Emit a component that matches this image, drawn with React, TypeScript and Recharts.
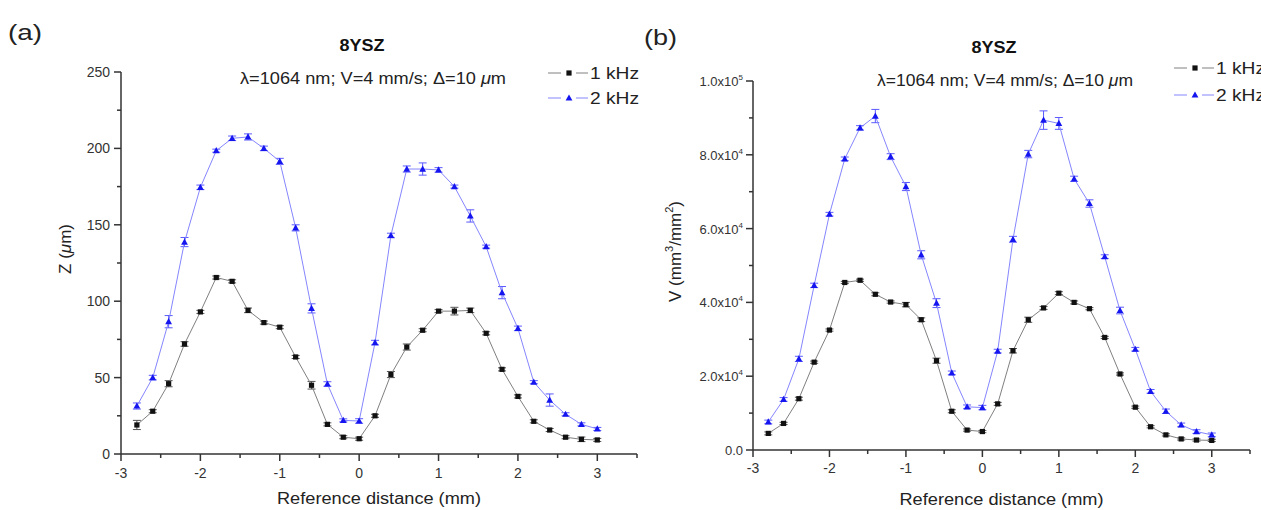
import React from 'react';
import { ComposedChart, Line, XAxis, YAxis, ErrorBar, Legend } from 'recharts';

// ---- Data ----
const distance = [-2.8, -2.6, -2.4, -2.2, -2.0, -1.8, -1.6, -1.4, -1.2, -1.0, -0.8, -0.6, -0.4, -0.2, 0.0,
  0.2, 0.4, 0.6, 0.8, 1.0, 1.2, 1.4, 1.6, 1.8, 2.0, 2.2, 2.4, 2.6, 2.8, 3.0];

const z1kHz = [19, 28, 46, 72, 93, 115.5, 113, 94, 86, 83, 63.5, 45, 19.4, 11, 10,
  25, 52, 70, 81, 93.5, 93.5, 94, 79, 55.4, 37.7, 21.4, 15.7, 11, 9.6, 9.2];
const z1kHzErr = [3, 1, 2, 1.5, 1, 1, 1, 1.5, 1, 1, 1, 2.5, 1, 1, 1,
  1, 2, 2, 1, 1, 2.5, 1.5, 1, 1, 1, 1, 1, 1, 1.5, 1];
const z2kHz = [31.4, 50, 86.6, 138.7, 174.5, 198.5, 206.6, 207.5, 200, 191.5, 148, 95.3, 45.8, 22, 21.6,
  72.9, 143, 186.5, 186.5, 185.9, 175, 155.8, 135.7, 105.6, 82.2, 47, 35.3, 26, 19.4, 16.4];
const z2kHzErr = [2, 1.5, 4, 3, 1.5, 1, 1.5, 2, 1.5, 2, 2, 3, 1.5, 1, 1.5,
  1.5, 1.5, 2, 4, 1.5, 1, 4, 1, 4, 1.5, 1, 4, 1, 1, 1];

const v1kHz = [4500, 7200, 13900, 23800, 32500, 45400, 46000, 42200, 40100, 39400, 35300, 24200, 10500, 5400, 5000,
  12500, 26900, 35300, 38500, 42500, 40000, 38300, 30500, 20600, 11600, 6300, 4100, 3000, 2700, 2600];
const v1kHzErr = [400, 300, 400, 300, 300, 300, 300, 400, 300, 600, 500, 700, 400, 300, 300,
  400, 600, 700, 400, 400, 400, 300, 300, 300, 300, 300, 300, 300, 300, 300];
const v2kHz = [7600, 13700, 24700, 44600, 63900, 78900, 87300, 90500, 79500, 71400, 52900, 39800, 20900, 11700, 11500,
  26800, 57100, 80200, 89400, 88500, 73500, 66800, 52400, 37800, 27300, 15900, 10500, 6800, 5000, 4100];
const v2kHzErr = [500, 500, 700, 600, 500, 500, 600, 1800, 800, 1100, 1100, 1200, 500, 500, 600,
  500, 800, 1000, 2500, 1600, 700, 1000, 500, 900, 500, 500, 600, 500, 500, 500];

const seriesNames = ['1 kHz', '2 kHz'];
const xTicks = [-3, -2.5, -2, -1.5, -1, -0.5, 0, 0.5, 1, 1.5, 2, 2.5, 3, 3.5];
const zTicks = [0, 25, 50, 75, 100, 125, 150, 175, 200, 225, 250];
const vTicks = [0, 10000, 20000, 30000, 40000, 50000, 60000, 70000, 80000, 90000, 100000];

const zData = distance.map((d, i) => ({ d, low: z1kHz[i], lowErr: z1kHzErr[i], high: z2kHz[i], highErr: z2kHzErr[i] }));
const vData = distance.map((d, i) => ({ d, low: v1kHz[i], lowErr: v1kHzErr[i], high: v2kHz[i], highErr: v2kHzErr[i] }));

const FONT = '"Liberation Sans", Arial, sans-serif';
const AXIS = '#333';
const LOW_LINE = '#808080';
const HIGH_LINE = '#8585ff';
const LOW_DOT = '#111';
const HIGH_DOT = '#1515f0';

const SquareDot = (props: any) => {
  const { cx, cy } = props;
  if (cx == null || cy == null) return null;
  return <rect x={cx - 2.6} y={cy - 2.6} width={5.2} height={5.2} fill={LOW_DOT} />;
};
const TriangleDot = (props: any) => {
  const { cx, cy } = props;
  if (cx == null || cy == null) return null;
  return <polygon points={`${cx},${cy - 3.6} ${cx + 3.4},${cy + 2.6} ${cx - 3.4},${cy + 2.6}`} fill={HIGH_DOT} />;
};

const makeXTick = (labelDy: number) => (props: any) => {
  const { x, y, payload } = props;
  const v = payload.value;
  const major = Math.abs(v - Math.round(v)) < 1e-6;
  return (
    <g>
      <line x1={x} x2={x} y1={y} y2={y + (major ? 7 : 4)} stroke={AXIS} strokeWidth={1.5} />
      {major && (
        <text x={x} y={y + labelDy} textAnchor="middle" dominantBaseline="central" fontSize={14} fill={AXIS} fontFamily={FONT}>
          {v}
        </text>
      )}
    </g>
  );
};

const ZTick = (props: any) => {
  const { x, y, payload } = props;
  const v = payload.value;
  const major = v % 50 === 0;
  return (
    <g>
      <line x1={x} x2={x - (major ? 7 : 4)} y1={y} y2={y} stroke={AXIS} strokeWidth={1.5} />
      {major && (
        <text x={x - 11} y={y} textAnchor="end" dominantBaseline="central" fontSize={14} fill={AXIS} fontFamily={FONT}>
          {v}
        </text>
      )}
    </g>
  );
};

const VTick = (props: any) => {
  const { x, y, payload } = props;
  const v = payload.value;
  const major = v % 20000 === 0;
  let content: any = null;
  if (major) {
    if (v === 0) content = '0.0';
    else {
      const exp = Math.floor(Math.log10(v));
      const mant = (v / Math.pow(10, exp)).toFixed(1);
      content = (
        <>
          {mant}x10<tspan dy={-6} fontSize={8}>{exp}</tspan>
        </>
      );
    }
  }
  return (
    <g>
      <line x1={x} x2={x - (major ? 7 : 4)} y1={y} y2={y} stroke={AXIS} strokeWidth={1.5} />
      {major && (
        <text x={x - 10} y={y + 5} textAnchor="end" fontSize={13} fill={AXIS} fontFamily={FONT}>
          {content}
        </text>
      )}
    </g>
  );
};

const makeLegend = (rowGap: number) => () => (
  <svg width={100} height={50} style={{ overflow: 'visible' }}>
    {seriesNames.map((name, i) => {
      const y = 10 + i * rowGap;
      const col = i === 0 ? LOW_LINE : HIGH_LINE;
      return (
        <g key={name}>
          <line x1={0} x2={13} y1={y} y2={y} stroke={col} strokeWidth={1} />
          <line x1={28} x2={40} y1={y} y2={y} stroke={col} strokeWidth={1} />
          {i === 0 ? <SquareDot cx={21} cy={y} /> : <TriangleDot cx={21} cy={y} />}
          <text x={42} y={y} dominantBaseline="central" fontSize={16} fill="#222" fontFamily={FONT} textLength={49} lengthAdjust="spacingAndGlyphs">
            {name}
          </text>
        </g>
      );
    })}
  </svg>
);

type PanelProps = {
  data: any[];
  left: number;
  width: number;
  margin: { top: number; right: number; bottom: number; left: number };
  yDomain: [number, number];
  yTicks: number[];
  yTick: any;
  xLabelDy: number;
  yLabel: any;
  xLabelY: number;
  yLabelX: number;
  legendPos: { left: number; top: number; gap: number };
};

const Panel = (p: PanelProps) => (
  <div style={{ position: 'absolute', left: p.left, top: 0 }}>
    <ComposedChart width={p.width} height={510} data={p.data} margin={p.margin}>
      <XAxis
        dataKey="d"
        type="number"
        domain={[-3, 3.5]}
        ticks={xTicks}
        interval={0}
        allowDataOverflow
        tickSize={0}
        tickMargin={0}
        tickLine={false}
        tick={makeXTick(p.xLabelDy)}
        height={30}
        stroke={AXIS}
        strokeWidth={1.5}
        label={{
          content: (lp: any) => {
            const vb = lp.viewBox;
            return (
              <text x={vb.x + vb.width / 2} y={p.xLabelY} textAnchor="middle" dominantBaseline="central" fontSize={16} fill="#222" fontFamily={FONT} textLength={204} lengthAdjust="spacingAndGlyphs">
                Reference distance (mm)
              </text>
            );
          },
        }}
      />
      <YAxis
        type="number"
        domain={p.yDomain}
        ticks={p.yTicks}
        interval={0}
        allowDataOverflow
        tickSize={0}
        tickMargin={0}
        tickLine={false}
        tick={p.yTick}
        width={60}
        stroke={AXIS}
        strokeWidth={1.5}
        label={{
          content: (lp: any) => {
            const vb = lp.viewBox;
            const cy = vb.y + vb.height / 2 - 14;
            return (
              <text x={p.yLabelX} y={cy} transform={`rotate(-90 ${p.yLabelX} ${cy})`} textAnchor="middle" dominantBaseline="central" fontSize={17} fill="#222" fontFamily={FONT}>
                {p.yLabel}
              </text>
            );
          },
        }}
      />
      <Legend
        layout="horizontal"
        verticalAlign="middle"
        align="center"
        content={makeLegend(p.legendPos.gap)}
        wrapperStyle={{ left: p.legendPos.left, top: p.legendPos.top, width: 100, height: 50 }}
      />
      <Line
        dataKey="low"
        name={seriesNames[0]}
        stroke={LOW_LINE}
        strokeWidth={1}
        dot={<SquareDot />}
        activeDot={false}
        isAnimationActive={false}
      >
        <ErrorBar dataKey="lowErr" direction="y" width={4} stroke="#555" strokeWidth={1} />
      </Line>
      <Line
        dataKey="high"
        name={seriesNames[1]}
        stroke={HIGH_LINE}
        strokeWidth={1}
        dot={<TriangleDot />}
        activeDot={false}
        isAnimationActive={false}
      >
        <ErrorBar dataKey="highErr" direction="y" width={4} stroke="#5a5aff" strokeWidth={1} />
      </Line>
    </ComposedChart>
  </div>
);

const Headings = () => (
  <svg width={1261} height={510} style={{ position: 'absolute', left: 0, top: 0, pointerEvents: 'none' }} fontFamily={FONT}>
    <text x={8} y={32} dominantBaseline="central" fontSize={22} fill="#222" textLength={34} lengthAdjust="spacingAndGlyphs">(a)</text>
    <text x={644} y={37} dominantBaseline="central" fontSize={22} fill="#222" textLength={33} lengthAdjust="spacingAndGlyphs">(b)</text>
    <text x={362} y={45} textAnchor="middle" dominantBaseline="central" fontSize={16} fontWeight="bold" fill="#111" textLength={45} lengthAdjust="spacingAndGlyphs">8YSZ</text>
    <text x={994} y={47} textAnchor="middle" dominantBaseline="central" fontSize={16} fontWeight="bold" fill="#111" textLength={45} lengthAdjust="spacingAndGlyphs">8YSZ</text>
    <text x={373} y={78} textAnchor="middle" dominantBaseline="central" fontSize={16} fill="#222" textLength={266} lengthAdjust="spacingAndGlyphs">
      λ=1064 nm; V=4 mm/s; Δ=10 <tspan fontStyle="italic">μ</tspan>m
    </text>
    <text x={1005} y={80} textAnchor="middle" dominantBaseline="central" fontSize={16} fill="#222" textLength={256} lengthAdjust="spacingAndGlyphs">
      λ=1064 nm; V=4 mm/s; Δ=10 <tspan fontStyle="italic">μ</tspan>m
    </text>
  </svg>
);

export default function App() {
  return (
    <div style={{ position: 'absolute', left: 0, top: 0, width: 1261, height: 510, overflow: 'hidden', background: '#fff' }}>
      <Panel
        data={zData}
        left={0}
        width={640}
        margin={{ top: 72, right: 3, bottom: 26, left: 61 }}
        yDomain={[0, 250]}
        yTicks={zTicks}
        yTick={ZTick}
        xLabelDy={19}
        xLabelY={498}
        yLabelX={65}
        yLabel={<>Z (<tspan fontStyle="italic">μ</tspan>m)</>}
        legendPos={{ left: 548, top: 63, gap: 25 }}
      />
      <Panel
        data={vData}
        left={630}
        width={631}
        margin={{ top: 81, right: 11, bottom: 30, left: 63 }}
        yDomain={[0, 100000]}
        yTicks={vTicks}
        yTick={VTick}
        xLabelDy={18}
        xLabelY={499}
        yLabelX={45}
        yLabel={<>V (mm<tspan dy={-6} fontSize={11}>3</tspan><tspan dy={6}>/mm</tspan><tspan dy={-6} fontSize={11}>2</tspan><tspan dy={6}>)</tspan></>}
        legendPos={{ left: 544, top: 58, gap: 27 }}
      />
      <Headings />
    </div>
  );
}
